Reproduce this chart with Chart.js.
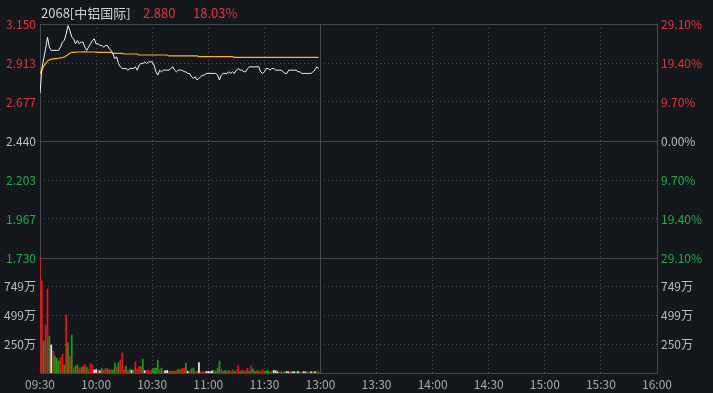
<!DOCTYPE html>
<html>
<head>
<meta charset="utf-8">
<script src="https://cdn.jsdelivr.net/npm/chart.js@4.4.0/dist/chart.umd.min.js"></script>
<style>
html,body{margin:0;padding:0;background:#14171c;}
#wrap{position:relative;width:713px;height:393px;}
#title span{position:absolute;top:5px;font:13px "Noto Sans CJK SC","Noto Sans",sans-serif;line-height:16px;white-space:nowrap;}
</style>
</head>
<body>
<div id="wrap">
<div id="title">
<span style="left:41px;color:#cfd3d8">2068[中铝国际]</span>
<span style="left:143px;color:#e8343c">2.880</span>
<span style="left:193px;color:#e8343c">18.03%</span>
</div>
<canvas id="c" width="713" height="393"></canvas>
</div>
<script>
const prevClose = 2.440;
const timeLabels = ['09:30','10:00','10:30','11:00','11:30','13:00','13:30','14:00','14:30','15:00','15:30','16:00'];
const priceTicks = [3.150, 2.913, 2.677, 2.440, 2.203, 1.967, 1.730];
const pctLabels = ['29.10%','19.40%','9.70%','0.00%','9.70%','19.40%','29.10%'];
const volTicks = [250, 499, 749];
const volMax = 999;

// one point per minute from 09:30
const prices = [
2.73,2.88,2.94,3.00,3.07,3.01,2.99,2.99,2.99,2.99,
2.99,3.01,3.04,3.05,3.09,3.14,3.11,3.07,3.06,3.03,
3.05,3.03,3.04,3.04,3.01,2.99,3.01,3.03,3.05,3.06,
3.03,3.03,3.02,3.02,3.01,3.02,3.02,3.00,2.99,2.97,
2.94,2.95,2.91,2.89,2.88,2.88,2.88,2.87,2.88,2.88,
2.88,2.89,2.87,2.90,2.91,2.91,2.92,2.91,2.92,2.92,
2.92,2.90,2.86,2.84,2.87,2.86,2.87,2.87,2.87,2.87,
2.88,2.89,2.87,2.86,2.87,2.87,2.87,2.86,2.86,2.85,
2.85,2.83,2.82,2.83,2.81,2.82,2.83,2.84,2.84,2.85,
2.85,2.85,2.85,2.85,2.85,2.84,2.81,2.84,2.85,2.85,
2.85,2.86,2.85,2.86,2.85,2.87,2.88,2.87,2.87,2.86,
2.86,2.88,2.89,2.89,2.89,2.89,2.89,2.89,2.86,2.85,
2.86,2.88,2.88,2.87,2.88,2.88,2.87,2.87,2.87,2.87,
2.86,2.85,2.85,2.87,2.87,2.87,2.87,2.87,2.86,2.86,
2.85,2.85,2.85,2.85,2.85,2.85,2.86,2.87,2.89,2.88
];

const avgPrices = [
2.850,2.870,2.895,2.910,2.925,2.932,2.935,2.938,2.940,2.940,
2.942,2.944,2.946,2.950,2.958,2.965,2.972,2.978,2.978,2.978,
2.980,2.980,2.980,2.981,2.981,2.981,2.980,2.980,2.980,2.980,
2.979,2.978,2.978,2.978,2.978,2.978,2.978,2.978,2.978,2.972,
2.972,2.972,2.972,2.972,2.972,2.968,2.968,2.968,2.968,2.968,
2.968,2.968,2.968,2.962,2.962,2.962,2.962,2.962,2.962,2.962,
2.962,2.962,2.962,2.962,2.962,2.962,2.962,2.962,2.962,2.956,
2.956,2.956,2.956,2.956,2.956,2.956,2.956,2.956,2.956,2.956,
2.956,2.956,2.956,2.956,2.956,2.952,2.952,2.952,2.952,2.952,
2.952,2.952,2.952,2.952,2.952,2.952,2.952,2.952,2.952,2.952,
2.952,2.952,2.952,2.952,2.948,2.948,2.948,2.948,2.948,2.948,
2.948,2.948,2.948,2.948,2.948,2.948,2.948,2.948,2.948,2.948,
2.948,2.948,2.948,2.948,2.948,2.948,2.948,2.948,2.948,2.948,
2.948,2.948,2.948,2.948,2.948,2.948,2.948,2.948,2.948,2.948,
2.948,2.948,2.948,2.948,2.948,2.948,2.948,2.948,2.948,2.948
];

// volume in 万 shares
const volumes = [
999,800,278,417,730,321,243,191,148,127,
104,133,165,70,504,263,142,330,43,61,
70,45,48,55,75,50,30,80,70,26,
30,28,20,43,25,38,43,25,30,25,
87,50,90,113,174,30,60,20,35,22,
30,98,35,55,55,120,20,25,25,15,
30,40,43,113,30,43,15,20,22,15,
15,18,15,20,30,30,40,43,85,15,
15,35,43,15,15,90,12,15,10,12,
15,10,18,20,15,43,104,30,15,20,
15,20,12,30,15,20,61,15,25,15,
20,40,15,61,35,15,20,15,12,30,
15,20,18,12,10,22,20,12,10,12,
10,15,12,10,15,10,12,10,12,8,
10,12,10,8,12,10,12,10,18,10
];

// 1 up (red), -1 down (green), 0 flat (white)
const volDir = [
1,1,-1,1,1,-1,0,1,-1,-1,
-1,1,1,-1,1,-1,1,-1,1,-1,
-1,1,1,-1,1,-1,1,1,1,0,
0,1,0,-1,1,1,1,-1,1,-1,
-1,1,-1,1,1,1,-1,1,-1,0,
-1,1,1,1,1,-1,0,1,1,1,
-1,-1,-1,-1,1,-1,1,0,0,-1,
1,1,-1,1,-1,1,1,1,-1,0,
1,-1,-1,1,1,0,1,1,1,0,
0,0,0,-1,1,-1,-1,1,-1,-1,
1,-1,1,1,-1,1,1,-1,1,-1,
1,1,-1,1,-1,-1,1,-1,1,1,
-1,-1,-1,1,-1,0,0,0,1,-1,
1,-1,0,0,1,0,0,-1,0,-1,
1,0,0,-1,1,0,-1,0,1,-1
];

const RED = '#e8343c', GREEN = '#22ad48', GRAY = '#b9bdc3';
const gridColor = 'rgba(105,110,120,0.7)';
const tickFont = {family: '"Noto Sans CJK SC", "Noto Sans", sans-serif', size: 12};

function priceColor(c) {
  const v = c.tick ? c.tick.value : 0;
  if (v > prevClose + 1e-6) return RED;
  if (v < prevClose - 1e-6) return GREEN;
  return GRAY;
}

const framePlugin = {
  id: 'frame',
  beforeDraw(chart) {
    const ctx = chart.ctx;
    ctx.save();
    ctx.fillStyle = '#14171c';
    ctx.fillRect(0, 0, chart.width, chart.height);
    ctx.restore();
  },
  beforeDatasetsDraw(chart) {
    const {ctx, chartArea: a, scales} = chart;
    const L = Math.floor(a.left) + 0.5, R = Math.floor(a.right) + 0.5;
    const T = Math.floor(a.top) + 0.5, B = Math.floor(a.bottom) + 0.5;
    const yMid = Math.round(scales.yPrice.getPixelForValue(prevClose)) + 0.5;
    const ySep = Math.round(scales.yPrice.bottom) + 0.5;
    const xNoon = Math.round(scales.x.getPixelForValue(150)) + 0.5;
    ctx.save();
    ctx.strokeStyle = '#44484f';
    ctx.lineWidth = 1;
    ctx.beginPath();
    ctx.moveTo(L, T); ctx.lineTo(R, T); ctx.lineTo(R, B); ctx.lineTo(L, B); ctx.closePath();
    ctx.moveTo(L, yMid); ctx.lineTo(R, yMid);
    ctx.moveTo(L, ySep); ctx.lineTo(R, ySep);
    ctx.moveTo(xNoon, T); ctx.lineTo(xNoon, B);
    ctx.stroke();
    ctx.restore();
  }
};

function yAxis(pos, weight, isPrice) {
  return {
    type: 'linear',
    position: pos,
    stack: 'main',
    stackWeight: weight,
    min: isPrice ? 1.730 : 0,
    max: isPrice ? 3.150 : volMax,
    afterBuildTicks: s => { s.ticks = (isPrice ? priceTicks : volTicks).map(v => ({value: v})); },
    afterFit: s => { s.width = pos === 'left' ? 40 : 56; },
    ticks: {
      font: tickFont,
      padding: 4,
      color: isPrice ? priceColor : GRAY,
      callback: v => isPrice
        ? (pos === 'left' ? v.toFixed(3) : pctLabels[priceTicks.indexOf(v)])
        : v + '万'
    },
    grid: {color: gridColor, drawTicks: false, drawOnChartArea: pos === 'left'},
    border: {display: false, dash: [1, 3]}
  };
}

new Chart(document.getElementById('c'), {
  type: 'bar',
  data: {
    datasets: [
      {type: 'line', data: prices.map((p, i) => ({x: i, y: p})), yAxisID: 'yPrice',
       borderColor: '#f4f4f4', borderWidth: 1, pointRadius: 0, tension: 0},
      {type: 'line', data: avgPrices.map((p, i) => ({x: i, y: p})), yAxisID: 'yPrice',
       borderColor: '#ffb21e', borderWidth: 1.2, pointRadius: 0, tension: 0},
      {type: 'bar', data: volumes.map((v, i) => ({x: i, y: v})), yAxisID: 'yVol',
       backgroundColor: volDir.map(d => d > 0 ? '#dc1a1a' : d < 0 ? '#179c17' : '#e8e8e8'),
       barThickness: 1.1}
    ]
  },
  options: {
    responsive: false,
    animation: false,
    devicePixelRatio: 1,
    layout: {padding: {top: 24, left: 0, right: 0, bottom: 0}},
    plugins: {legend: {display: false}, tooltip: {enabled: false}},
    scales: {
      x: {
        type: 'linear', min: 0, max: 330, offset: false,
        afterBuildTicks: s => { s.ticks = timeLabels.map((t, i) => ({value: i * 30})); },
        afterFit: s => { s.height = 20; },
        ticks: {autoSkip: false, maxRotation: 0, font: tickFont, color: '#a7abb1', padding: 4,
                callback: v => timeLabels[Math.round(v / 30)]},
        grid: {color: gridColor, drawTicks: false, offset: false},
        border: {display: false, dash: [1, 3]}
      },
      // left stack is laid out in reverse order, so the volume axis is listed first
      yVol: yAxis('left', 115, false),
      yPrice: yAxis('left', 234, true),
      yPct: yAxis('right', 234, true),
      yVolR: yAxis('right', 115, false)
    }
  },
  plugins: [framePlugin]
});
</script>
</body>
</html>
